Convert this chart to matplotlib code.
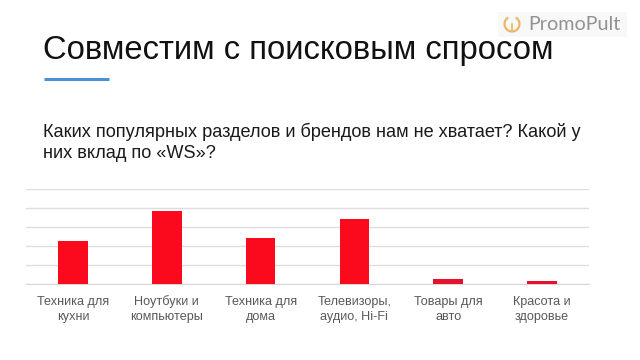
import matplotlib
matplotlib.use("Agg")
import matplotlib.pyplot as plt
from matplotlib.patches import Rectangle, Arc

categories = ["Техника для\nкухни", "Ноутбуки и\nкомпьютеры", "Техника для\nдома",
              "Телевизоры,\nаудио, Hi-Fi", "Товары для\nавто", "Красота и\nздоровье"]
values = [2.25, 3.87, 2.42, 3.45, 0.27, 0.19]
bar_colors = ["#fb0a1e", "#fb0a1e", "#fb0a1e", "#fb0a1e", "#e8112d", "#e8112d"]

plt.rcParams['font.family'] = ['Liberation Sans', 'DejaVu Sans']

W, H = 640, 360
fig = plt.figure(figsize=(W / 100, H / 100), dpi=100, facecolor="white")

# overlay in pixel coordinates for the slide elements
bg = fig.add_axes([0, 0, 1, 1])
bg.set_xlim(0, W)
bg.set_ylim(H, 0)
bg.axis("off")
bg.text(43, 58.5, "Совместим с поисковым спросом", fontsize=23.6, color="#111111", va="baseline", ha="left")
bg.plot([44, 109], [79, 79], color="#4a90d9", lw=2.2, solid_capstyle="butt")
bg.text(43, 137, "Каких популярных разделов и брендов нам не хватает? Какой у", fontsize=13.1,
        color="#1a1a1a", va="baseline", ha="left")
bg.text(43, 158, "них вклад по «WS»?", fontsize=13.1, color="#1a1a1a", va="baseline", ha="left")

# logo
bg.add_patch(Rectangle((498, 12), 129, 25, color="#f8f8f8", lw=0))
bg.add_patch(Arc((512, 24), 15, 15, theta1=-60, theta2=240, color="#eab765", lw=1.6))
bg.plot([512, 512], [24, 31], color="#eab765", lw=1.2)
bg.text(528, 30, "PromoPult", fontsize=14.2, color="#929292", va="baseline", ha="left",
        family=["Lato", "DejaVu Sans"], fontweight="normal")

# bars
ax = fig.add_axes([26 / W, 1 - 284.3 / H, (589 - 26) / W, 95.3 / H])
ax.set_facecolor("none")
x = list(range(len(categories)))
ax.bar(x, values, width=0.315, color=bar_colors, zorder=3)
ax.set_xlim(-0.5, 5.5)
ax.set_ylim(0, 5)
ax.set_yticks(range(0, 6))
ax.set_xticks(x)
ax.set_xticklabels(categories, fontsize=9.1, color="#595959", linespacing=1.37, va="baseline")
ax.tick_params(axis="both", length=0, labelleft=False)
ax.tick_params(axis="x", pad=25.7)
ax.grid(axis="y", color="#dedede", lw=1)
ax.set_axisbelow(True)
for s in ["top", "left", "right"]:
    ax.spines[s].set_visible(False)
ax.spines["bottom"].set_color("#d6d6d6")

fig.savefig("out.png", dpi=100)
